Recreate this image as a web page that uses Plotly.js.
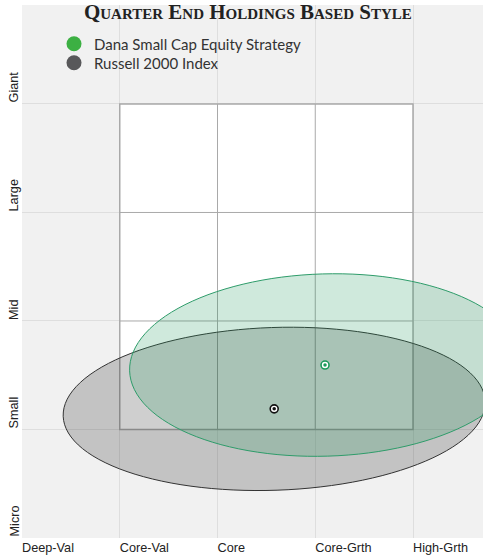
<!DOCTYPE html>
<html>
<head>
<meta charset="utf-8">
<script src="https://cdn.plot.ly/plotly-3.0.1.min.js"></script>
<style>html,body{margin:0;padding:0;background:#fff;}</style>
</head>
<body>
<div id="chart" style="width:483px;height:555px;"></div>
<script>
// ---- data ----
var styleTicks = ["Deep-Val", "Core-Val", "Core", "Core-Grth", "High-Grth"];
var sizeTicks = ["Micro", "Small", "Mid", "Large", "Giant"];
var seriesNames = ["Dana Small Cap Equity Strategy", "Russell 2000 Index"];
var seriesColors = ["#3cb043", "#58585a"];
var centerX = [3.10, 2.58];      // style score
var centerY = [1.594, 1.19];     // size score
var spreadX = [2.00, 2.16];      // ellipse semi-axis along style
var spreadY = [0.84, 0.75];      // ellipse semi-axis along size
var tiltDeg = [1.7, 2.0];
var ellipseFill = ["rgba(30,150,90,0.21)", "rgba(0,0,0,0.19)"];
var ellipseLine = ["#2e9c6a", "#333333"];
var dotColor = ["#1a9a5a", "#111111"];

// ---- layout geometry ----
var W = 483, H = 555;
var M = {l: 22, r: 0, t: 5, b: 17};
var xRange = [0, 4.716];
var yRange = [0, 4.912];
var plotW = W - M.l - M.r, plotH = H - M.t - M.b;
var kx = plotW / (xRange[1] - xRange[0]);
var ky = plotH / (yRange[1] - yRange[0]);

function ellipsePath(cx, cy, rx, ry, deg) {
  var a = rx * kx, b = ry * ky, th = deg * Math.PI / 180;
  var n = 120, d = "";
  for (var i = 0; i <= n; i++) {
    var t = 2 * Math.PI * i / n;
    var px = a * Math.cos(t), py = b * Math.sin(t);
    var X = px * Math.cos(th) - py * Math.sin(th);
    var Y = px * Math.sin(th) + py * Math.cos(th);
    d += (i === 0 ? "M" : "L") + (cx + X / kx).toFixed(4) + "," + (cy + Y / ky).toFixed(4);
  }
  return d + "Z";
}

var shapes = [];
// style box (Core-Val .. High-Grth, Small .. Giant)
shapes.push({type: "rect", layer: "between", xref: "x", yref: "y", x0: 1, x1: 4, y0: 1, y1: 4,
  fillcolor: "#ffffff", line: {color: "#a9a9a9", width: 1.5}});
[2, 3].forEach(function (v) {
  shapes.push({type: "line", layer: "between", xref: "x", yref: "y", x0: v, x1: v, y0: 1, y1: 4,
    line: {color: "#a9a9a9", width: 1}});
  shapes.push({type: "line", layer: "between", xref: "x", yref: "y", x0: 1, x1: 4, y0: v, y1: v,
    line: {color: "#a9a9a9", width: 1}});
});
// ellipses: index first (drawn below), then strategy
[1, 0].forEach(function (i) {
  shapes.push({type: "path", layer: "between", xref: "x", yref: "y",
    path: ellipsePath(centerX[i], centerY[i], spreadX[i], spreadY[i], tiltDeg[i]),
    fillcolor: ellipseFill[i], line: {color: ellipseLine[i], width: 1}});
});

var traces = [];
// legend entries (each in its own legend box for exact placement)
[0, 1].forEach(function (i) {
  traces.push({type: "scatter", mode: "markers", x: [null], y: [null], name: seriesNames[i],
    legend: i === 0 ? "legend" : "legend2",
    marker: {size: 15, color: seriesColors[i]}, showlegend: true, hoverinfo: "skip"});
});
// center points
[1, 0].forEach(function (i) {
  traces.push({type: "scatter", mode: "markers", x: [centerX[i]], y: [centerY[i]], showlegend: false,
    marker: {size: 8, color: "#ffffff", line: {color: dotColor[i], width: 1.6}}, hoverinfo: "skip"});
  traces.push({type: "scatter", mode: "markers", x: [centerX[i]], y: [centerY[i]], showlegend: false,
    marker: {size: 3.5, color: dotColor[i], line: {width: 0}}, hoverinfo: "skip"});
});

var annotations = sizeTicks.map(function (s, i) {
  return {text: s, xref: "paper", yref: "y", x: -8 / plotW, y: i,
    xanchor: "center", yanchor: "bottom", textangle: -90, showarrow: false,
    font: {family: "Liberation Sans, Arial, sans-serif", size: 12.7, color: "#222"}, borderpad: 0};
});

var legendFont = {family: "Lato, Open Sans, sans-serif", size: 15, color: "#333"};
function legendAt(textLeftPx, centerYpx) {
  return {x: (textLeftPx - 40 - M.l) / plotW, xanchor: "left",
    y: (H - M.b - centerYpx) / plotH, yanchor: "middle",
    bgcolor: "rgba(0,0,0,0)", font: legendFont, itemsizing: "trace"};
}

var layout = {
  width: W, height: H,
  margin: M,
  paper_bgcolor: "#ffffff",
  plot_bgcolor: "#f1f1f1",
  title: {text: "Quarter End Holdings Based Style", xref: "paper", x: 0.49, xanchor: "center",
    yref: "container", y: 0.992, yanchor: "top",
    font: {family: "Liberation Serif, Times New Roman, serif", size: 21, weight: "bold", variant: "small-caps", color: "#222"}},
  xaxis: {range: xRange, tickvals: [0, 1, 2, 3, 4], ticktext: styleTicks, showgrid: true, gridcolor: "#dedede",
    gridwidth: 1, zeroline: false, showline: false, ticks: "", ticklabelposition: "outside right",
    tickfont: {family: "Liberation Sans, Arial, sans-serif", size: 12.7, color: "#222"}, fixedrange: true},
  yaxis: {range: yRange, tickvals: [0, 1, 2, 3, 4], showticklabels: false, showgrid: true, gridcolor: "#dedede",
    gridwidth: 1, zeroline: false, showline: false, ticks: "", fixedrange: true},
  showlegend: true,
  legend: legendAt(94, 44),
  legend2: legendAt(94, 63),
  shapes: shapes,
  annotations: annotations
};

Plotly.newPlot("chart", traces, layout, {displayModeBar: false, staticPlot: true});
</script>
</body>
</html>
